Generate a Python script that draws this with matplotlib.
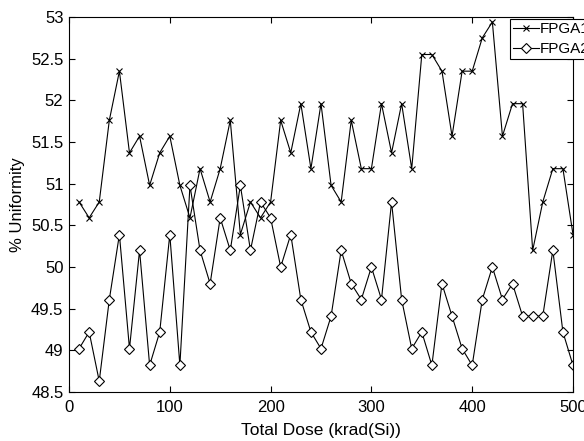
import matplotlib
matplotlib.use("Agg")
import matplotlib.pyplot as plt

plt.rcParams['font.family'] = ['Liberation Sans', 'DejaVu Sans']

dose = [10, 20, 30, 40, 50, 60, 70, 80, 90, 100,
        110, 120, 130, 140, 150, 160, 170, 180, 190, 200,
        210, 220, 230, 240, 250, 260, 270, 280, 290, 300,
        310, 320, 330, 340, 350, 360, 370, 380, 390, 400,
        410, 420, 430, 440, 450, 460, 470, 480, 490, 500]

fpga1 = [50.78, 50.59, 50.78, 51.76, 52.35, 51.37, 51.57, 50.98, 51.37, 51.57,
         50.98, 50.59, 51.18, 50.78, 51.18, 51.76, 50.39, 50.78, 50.59, 50.78,
         51.76, 51.37, 51.96, 51.18, 51.96, 50.98, 50.78, 51.76, 51.18, 51.18,
         51.96, 51.37, 51.96, 51.18, 52.55, 52.55, 52.35, 51.57, 52.35, 52.35,
         52.75, 52.94, 51.57, 51.96, 51.96, 50.20, 50.78, 51.18, 51.18, 50.39]

fpga2 = [49.02, 49.22, 48.63, 49.61, 50.39, 49.02, 50.20, 48.82, 49.22, 50.39,
         48.82, 50.98, 50.20, 49.80, 50.59, 50.20, 50.98, 50.20, 50.78, 50.59,
         50.00, 50.39, 49.61, 49.22, 49.02, 49.41, 50.20, 49.80, 49.61, 50.00,
         49.61, 50.78, 49.61, 49.02, 49.22, 48.82, 49.80, 49.41, 49.02, 48.82,
         49.61, 50.00, 49.61, 49.80, 49.41, 49.41, 49.41, 50.20, 49.22, 48.82]

series_labels = ['FPGA1', 'FPGA2']
xticks = [0, 100, 200, 300, 400, 500]
yticks = [48.5, 49, 49.5, 50, 50.5, 51, 51.5, 52, 52.5, 53]
ytick_labels = ['48.5', '49', '49.5', '50', '50.5', '51', '51.5', '52', '52.5', '53']

W, H = 584, 441
fig = plt.figure(figsize=(W / 100, H / 100), dpi=100)
ax = fig.add_axes([69 / W, 1 - 392 / H, (573 - 69) / W, (392 - 17) / H])

l1, = ax.plot(dose, fpga1, color='black', lw=0.8, marker='x', markersize=5,
              markeredgewidth=0.8, label=series_labels[0])
l2, = ax.plot(dose, fpga2, color='black', lw=0.8, marker='D', markersize=5,
              markerfacecolor='white', markeredgewidth=0.8, label=series_labels[1])

ax.set_xlim(0, 500)
ax.set_ylim(48.5, 53)
ax.set_xticks(xticks)
ax.set_xticklabels([str(t) for t in xticks])
ax.set_yticks(yticks)
ax.set_yticklabels(ytick_labels)
ax.tick_params(direction='in', length=4, width=0.8, top=True, right=True,
               labelsize=12)
ax.tick_params(axis='x', pad=6)
ax.tick_params(axis='y', pad=4)
for s in ax.spines.values():
    s.set_linewidth(0.8)

ax.set_xlabel('Total Dose (krad(Si))', fontsize=12.5, va='center')
ax.xaxis.set_label_coords(0.5, (392 - 430) / 375)
ax.set_ylabel('% Uniformity', fontsize=12, va='center')
ax.yaxis.set_label_coords((18 - 69) / 504, 0.5)

leg = fig.legend(handles=[l1, l2], loc='upper left',
                 bbox_to_anchor=(510 / W, 1 - 19 / H), fontsize=11,
                 frameon=True, fancybox=False, edgecolor='black',
                 framealpha=1, borderpad=0.2, labelspacing=0.4,
                 handlelength=1.7, handletextpad=0.05, borderaxespad=0)
leg.get_frame().set_linewidth(0.8)

fig.savefig('out.png', dpi=100)
